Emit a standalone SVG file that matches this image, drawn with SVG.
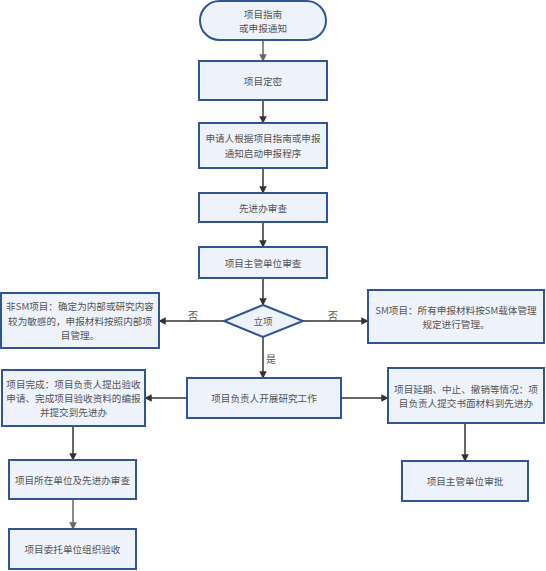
<svg xmlns="http://www.w3.org/2000/svg" width="546" height="571" viewBox="0 0 546 571">
<style>
.n{fill:#EEF2FB;stroke:#2F5597;stroke-width:2}
.t{font-family:"Noto Sans CJK SC","Noto Sans",sans-serif;font-size:9.6px;fill:#555;text-anchor:middle;dominant-baseline:central}
.c{stroke:#333;stroke-width:1.5;fill:none}
.g{stroke:#666;stroke-width:1.5;fill:none}
.l{font-family:"Noto Sans CJK SC","Noto Sans",sans-serif;font-size:10px;fill:#555;text-anchor:middle;dominant-baseline:central}
</style>
<defs>
<marker id="a" viewBox="0 0 10 10" refX="9" refY="5" markerWidth="5" markerHeight="5" orient="auto"><path d="M0,0L10,5L0,10z" fill="#333"/></marker>
<marker id="b" viewBox="0 0 10 10" refX="9" refY="5" markerWidth="5" markerHeight="5" orient="auto"><path d="M0,0L10,5L0,10z" fill="#666"/></marker>
</defs>
<rect width="546" height="571" fill="#fff"/>
<g id="connectors">
<path class="g" d="M263,40V61" marker-end="url(#b)"/>
<path class="c" d="M263,100V123" marker-end="url(#a)"/>
<path class="c" d="M263,168V193" marker-end="url(#a)"/>
<path class="c" d="M263,222V247" marker-end="url(#a)"/>
<path class="c" d="M263,278V305" marker-end="url(#a)"/>
<path class="c" d="M224,321H159" marker-end="url(#a)"/>
<path class="c" d="M303,321H368" marker-end="url(#a)"/>
<path class="c" d="M263,337V378" marker-end="url(#a)"/>
<path class="c" d="M187,398H145" marker-end="url(#a)"/>
<path class="c" d="M341,398H388" marker-end="url(#a)"/>
<path class="c" d="M73,426V460" marker-end="url(#a)"/>
<path class="g" d="M73,499V529" marker-end="url(#b)"/>
<path class="c" d="M465,423V461" marker-end="url(#a)"/>
<text class="l" x="193" y="315">否</text>
<text class="l" x="333" y="315">否</text>
<text class="l" x="271" y="358">是</text>
</g>
<g id="start"><rect class="n" x="200" y="1" width="126" height="39" rx="19.5"/><text class="t" x="263" y="14">项目指南</text><text class="t" x="263" y="28">或申报通知</text></g>
<g id="dingmi"><rect class="n" x="199" y="61" width="128" height="39"/><text class="t" x="263" y="80.5">项目定密</text></g>
<g id="shenqing"><rect class="n" x="199" y="123" width="128" height="45"/><text class="t" x="263" y="138">申请人根据项目指南或申报</text><text class="t" x="263" y="153">通知启动申报程序</text></g>
<g id="xianjinban"><rect class="n" x="199" y="193" width="128" height="29"/><text class="t" x="263" y="207.5">先进办审查</text></g>
<g id="zhuguan"><rect class="n" x="199" y="247" width="128" height="31"/><text class="t" x="263" y="262.5">项目主管单位审查</text></g>
<g id="lixiang"><path class="n" d="M263,305L303,321L263,337L224,321Z"/><text class="t" x="263" y="321">立项</text></g>
<g id="feism"><rect class="n" x="1" y="293" width="158" height="55"/><text class="t" x="80" y="306">非SM项目：确定为内部或研究内容</text><text class="t" x="80" y="320.5">较为敏感的，申报材料按照内部项</text><text class="t" x="80" y="335">目管理。</text></g>
<g id="sm"><rect class="n" x="368" y="290" width="176" height="53"/><text class="t" x="456" y="310">SM项目：所有申报材料按SM载体管理</text><text class="t" x="456" y="324">规定进行管理。</text></g>
<g id="kaizhan"><rect class="n" x="187" y="378" width="154" height="40"/><text class="t" x="264" y="398">项目负责人开展研究工作</text></g>
<g id="wancheng"><rect class="n" x="2" y="370" width="143" height="56"/><text class="t" x="73.5" y="384">项目完成：项目负责人提出验收</text><text class="t" x="73.5" y="398">申请、完成项目验收资料的编报</text><text class="t" x="73.5" y="412">并提交到先进办</text></g>
<g id="yanqi"><rect class="n" x="388" y="368" width="156" height="55"/><text class="t" x="466" y="389">项目延期、中止、撤销等情况：项</text><text class="t" x="466" y="403">目负责人提交书面材料到先进办</text></g>
<g id="suozai"><rect class="n" x="9" y="460" width="127" height="39"/><text class="t" x="72.5" y="479.5">项目所在单位及先进办审查</text></g>
<g id="weituo"><rect class="n" x="9" y="529" width="127" height="40"/><text class="t" x="72.5" y="549">项目委托单位组织验收</text></g>
<g id="shenpi"><rect class="n" x="402" y="461" width="126" height="40"/><text class="t" x="465" y="481">项目主管单位审批</text></g>
</svg>
